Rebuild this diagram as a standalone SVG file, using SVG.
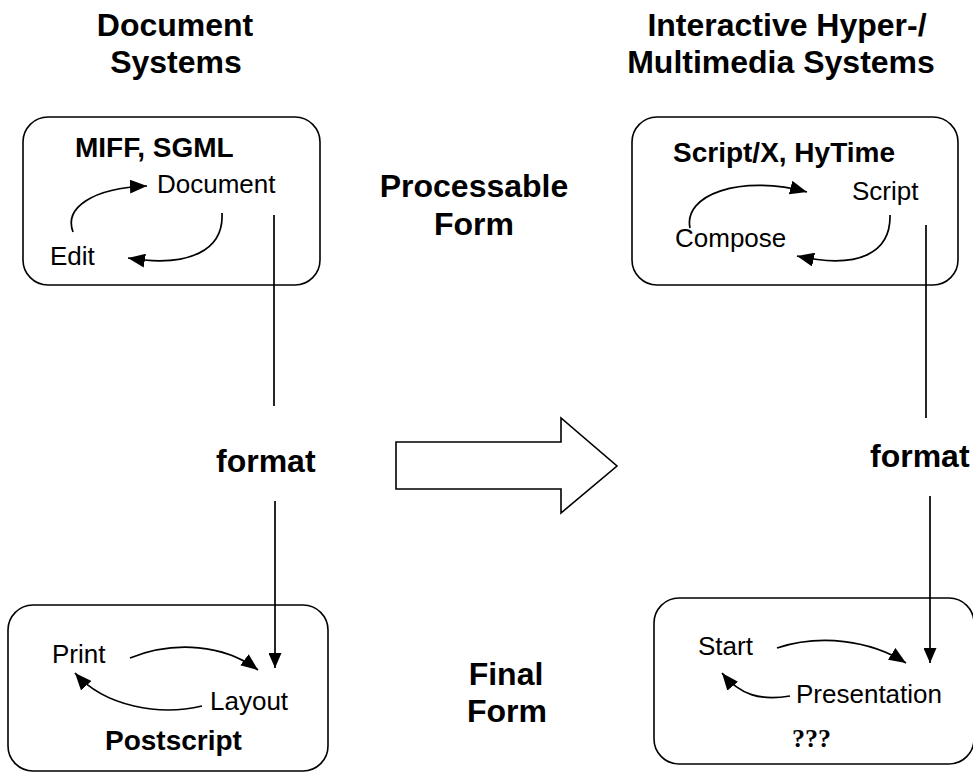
<svg xmlns="http://www.w3.org/2000/svg" width="973" height="773" viewBox="0 0 973 773">
<defs>
<style>
.box{fill:none;stroke:#000;stroke-width:1.6}
.ln{fill:none;stroke:#000;stroke-width:1.7}
.h{font-family:"Liberation Sans",Arial,sans-serif;font-weight:bold;font-size:32px;fill:#000}
.b{font-family:"Liberation Sans",Arial,sans-serif;font-weight:bold;font-size:28px;fill:#000}
.r{font-family:"Liberation Sans",Arial,sans-serif;font-size:26px;fill:#000}
.s{font-family:"Liberation Serif","Times New Roman",serif;font-weight:bold;font-size:26px;fill:#000}
</style>
<marker id="ah" markerUnits="userSpaceOnUse" markerWidth="18" markerHeight="14" refX="17" refY="7" orient="auto">
<path d="M0,0 L17,7 L0,14 z" fill="#000"/>
</marker>
<marker id="av" markerUnits="userSpaceOnUse" markerWidth="15" markerHeight="13" refX="15" refY="6.5" orient="auto">
<path d="M0,0 L15,6.5 L0,13 z" fill="#000"/>
</marker>
</defs>
<rect width="973" height="773" fill="#fff"/>
<g id="titles">
<text class="h" x="175" y="36" text-anchor="middle">Document</text>
<text class="h" x="176" y="73" text-anchor="middle">Systems</text>
<text class="h" x="787" y="36" text-anchor="middle">Interactive Hyper-/</text>
<text class="h" x="781" y="73" text-anchor="middle">Multimedia Systems</text>
<text class="h" x="474" y="197" text-anchor="middle">Processable</text>
<text class="h" x="474" y="235" text-anchor="middle">Form</text>
<text class="h" x="506" y="685" text-anchor="middle">Final</text>
<text class="h" x="507" y="722" text-anchor="middle">Form</text>
<text class="h" x="216" y="472">format</text>
<text class="h" x="870" y="467">format</text>
</g>
<g id="doc-processable">
<rect class="box" x="23" y="117" width="297" height="168" rx="25"/>
<text class="b" x="75" y="157">MIFF, SGML</text>
<text class="r" x="157" y="193">Document</text>
<text class="r" x="50" y="265">Edit</text>
<path class="ln" d="M73,232 C64,208 92,188 147,186" marker-end="url(#ah)"/>
<path class="ln" d="M222,213 C224,250 190,268 128,258" marker-end="url(#ah)"/>
</g>
<g id="mm-processable">
<rect class="box" x="632" y="117" width="326" height="168" rx="25"/>
<text class="b" x="673" y="162">Script/X, HyTime</text>
<text class="r" x="852" y="200">Script</text>
<text class="r" x="675" y="247">Compose</text>
<path class="ln" d="M690,228 C683,195 740,174 807,192" marker-end="url(#ah)"/>
<path class="ln" d="M890,215 C891,252 860,270 797,256" marker-end="url(#ah)"/>
</g>
<g id="doc-final">
<rect class="box" x="8" y="605" width="320" height="166" rx="25"/>
<text class="r" x="52" y="663">Print</text>
<text class="r" x="210" y="710">Layout</text>
<text class="b" x="105" y="750">Postscript</text>
<path class="ln" d="M130,658 C175,640 225,645 258,670" marker-end="url(#ah)"/>
<path class="ln" d="M202,706 C160,716 105,707 75,673" marker-end="url(#ah)"/>
</g>
<g id="mm-final">
<rect class="box" x="654" y="598" width="320" height="166" rx="25"/>
<text class="r" x="698" y="655">Start</text>
<text class="r" x="796" y="703">Presentation</text>
<text class="s" x="792" y="747">???</text>
<path class="ln" d="M777,648 C820,634 870,640 906,663" marker-end="url(#ah)"/>
<path class="ln" d="M790,696 C760,701 740,695 722,673" marker-end="url(#ah)"/>
</g>
<g id="big-arrow">
<polygon points="396,442 561,442 561,418 617,466 561,513 561,489 396,489" fill="#fff" stroke="#000" stroke-width="1.6"/>
</g>
<g id="connectors">
<line class="ln" x1="274" y1="215" x2="274" y2="406"/>
<line class="ln" x1="275" y1="501" x2="275" y2="668" marker-end="url(#av)"/>
<line class="ln" x1="926" y1="225" x2="926" y2="418"/>
<line class="ln" x1="930" y1="496" x2="930" y2="663" marker-end="url(#av)"/>
</g>
</svg>
